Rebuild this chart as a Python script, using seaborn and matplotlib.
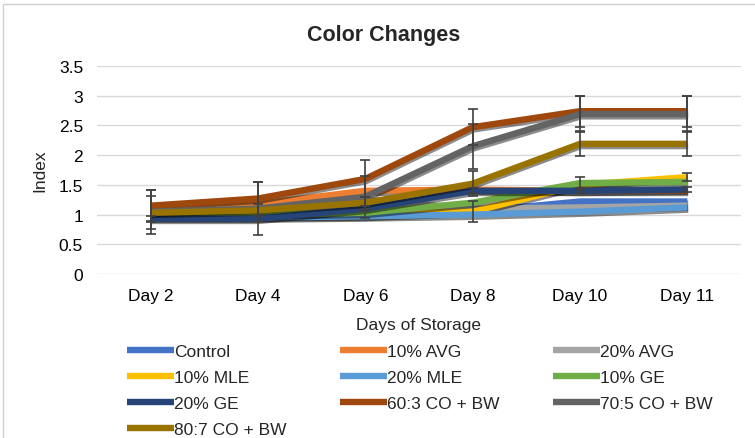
import numpy as np
import pandas as pd
import matplotlib
matplotlib.use("Agg")
import matplotlib.pyplot as plt
import matplotlib.patheffects as pe
from matplotlib.patches import Rectangle
import seaborn as sns

# Storage days (categories on the x axis)
days = ["Day 2", "Day 4", "Day 6", "Day 8", "Day 10", "Day 11"]

# Colour index per treatment
control = [1.00, 0.97, 0.98, 1.05, 1.22, 1.22]
avg_10 = [1.10, 1.18, 1.40, 1.42, 1.40, 1.40]
avg_20 = [1.00, 1.05, 1.25, 1.10, 1.12, 1.15]
mle_10 = [1.00, 0.98, 1.00, 1.05, 1.50, 1.63]
mle_20 = [0.95, 0.95, 0.97, 1.00, 1.05, 1.12]
ge_10 = [0.98, 1.00, 1.03, 1.20, 1.53, 1.55]
ge_20 = [0.93, 0.93, 1.10, 1.40, 1.40, 1.42]
co_bw_60_3 = [1.15, 1.27, 1.60, 2.47, 2.74, 2.74]
co_bw_70_5 = [1.05, 1.10, 1.30, 2.15, 2.69, 2.69]
co_bw_80_7 = [1.03, 1.07, 1.20, 1.52, 2.19, 2.19]

# Standard deviations (error bars); 0 means no bar drawn
err_control = [0.00, 0.00, 0.00, 0.17, 0.00, 0.00]
err_avg_10 = [0.00, 0.00, 0.00, 0.00, 0.00, 0.00]
err_avg_20 = [0.00, 0.00, 0.00, 0.00, 0.00, 0.00]
err_mle_10 = [0.00, 0.00, 0.00, 0.00, 0.00, 0.07]
err_mle_20 = [0.00, 0.00, 0.00, 0.00, 0.00, 0.00]
err_ge_10 = [0.00, 0.00, 0.00, 0.00, 0.11, 0.00]
err_ge_20 = [0.04, 0.04, 0.04, 0.04, 0.04, 0.04]
err_60_3 = [0.27, 0.28, 0.31, 0.30, 0.26, 0.26]
err_70_5 = [0.37, 0.45, 0.35, 0.38, 0.30, 0.30]
err_80_7 = [0.28, 0.10, 0.10, 0.21, 0.21, 0.21]

treatments = ["Control", "10% AVG", "20% AVG", "10% MLE", "20% MLE",
              "10% GE", "20% GE", "60:3 CO + BW", "70:5 CO + BW", "80:7 CO + BW"]
values = [control, avg_10, avg_20, mle_10, mle_20,
          ge_10, ge_20, co_bw_60_3, co_bw_70_5, co_bw_80_7]
errors = [err_control, err_avg_10, err_avg_20, err_mle_10, err_mle_20,
          err_ge_10, err_ge_20, err_60_3, err_70_5, err_80_7]
colors = ["#4472C4", "#ED7D31", "#A5A5A5", "#FFC000", "#5B9BD5",
          "#70AD47", "#264478", "#9E480E", "#636363", "#997300"]

df = pd.DataFrame({
    "Day": np.tile(days, len(treatments)),
    "Treatment": np.repeat(treatments, len(days)),
    "Index": np.concatenate(values),
})

sns.set_theme(style="white")
plt.rcParams["font.family"] = ["Liberation Sans", "DejaVu Sans"]

W, H = 755, 439
fig = plt.figure(figsize=(W / 100, H / 100), dpi=100)
ax = fig.add_axes([97 / W, 1 - 275 / H, (741 - 97) / W, (275 - 67) / H])

shadow = [pe.SimpleLineShadow(offset=(0.6, -1.6), shadow_color="black", alpha=0.45),
          pe.Normal()]

sns.lineplot(data=df, x="Day", y="Index", hue="Treatment", hue_order=treatments,
             palette=colors, linewidth=4.6, sort=False, errorbar=None, ax=ax,
             legend=True)
for line in ax.get_lines():
    line.set_path_effects(shadow)
    line.set_solid_capstyle("butt")

# Error bars where a deviation was recorded
xpos = np.arange(len(days))
for vals, errs in zip(values, errors):
    vals = np.asarray(vals)
    errs = np.asarray(errs)
    m = errs > 0
    if m.any():
        ax.errorbar(xpos[m], vals[m], yerr=errs[m], fmt="none", ecolor="#404040",
                    elinewidth=1.2, capsize=3.6, capthick=1.2, zorder=5)

ax.set_xlim(-0.5, len(days) - 0.5)
ax.set_ylim(0, 3.5)
ax.set_yticks(np.arange(0, 3.51, 0.5))
ax.set_yticklabels(["0", "0.5", "1", "1.5", "2", "2.5", "3", "3.5"])
ax.grid(axis="y", color="#D9D9D9", linewidth=1.0)
ax.set_axisbelow(True)
for s in ax.spines.values():
    s.set_visible(False)
ax.tick_params(axis="both", length=0, labelsize=12.5, colors="#000000")
ax.tick_params(axis="y", pad=10)
ax.tick_params(axis="x", pad=10)
ax.set_xlabel("Days of Storage", fontsize=12.5, labelpad=10)
ax.set_ylabel("Index", fontsize=12.5, labelpad=8)

fig.text(384 / W, 1 - 35 / H, "Color Changes", ha="center", va="center",
         fontsize=15.5, fontweight="bold")

# Legend below the plot, filled row-wise in three columns
handles, labels = ax.get_legend_handles_labels()
ax.get_legend().remove()
order = [0, 3, 6, 9, 1, 4, 7, 2, 5, 8]
leg = fig.legend([handles[i] for i in order], [labels[i] for i in order],
                 ncol=3, loc="upper left", bbox_to_anchor=(127 / W, 1 - 345 / H),
                 frameon=False, fontsize=12.5, handlelength=2.7, handletextpad=0.0,
                 columnspacing=3.1, labelspacing=0.62, borderpad=0, borderaxespad=0)
for h in leg.legend_handles:
    h.set_linewidth(4.6)
    h.set_path_effects([])

# Chart frame
fig.add_artist(Rectangle((3 / W, -0.05), 1.1, 1 - 5 / H + 0.05,
                         transform=fig.transFigure, fill=False,
                         edgecolor="#D0D0D0", linewidth=1.0))

fig.savefig("out.png", dpi=100)
